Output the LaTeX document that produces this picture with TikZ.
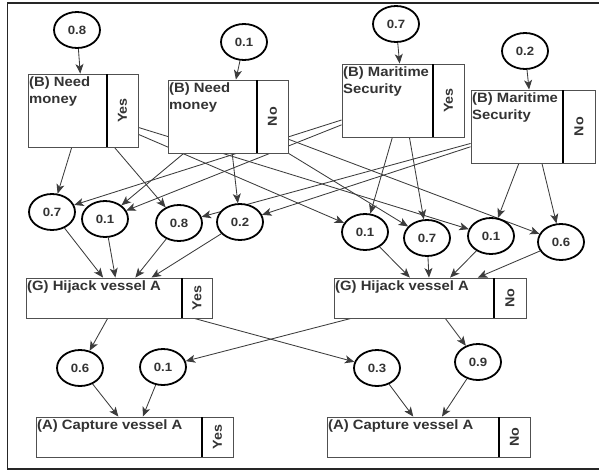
\documentclass[tikz,border=0pt]{standalone}
\usepackage{fontspec}
\setmainfont{Liberation Sans}[FakeStretch=1.1]
\usetikzlibrary{shapes.geometric,arrows.meta}
\pgfdeclarelayer{bg}
\pgfsetlayers{bg,main}
\definecolor{ink}{HTML}{333333}
\definecolor{wire}{HTML}{3c3c3c}
\definecolor{rim}{HTML}{505050}
\tikzset{
  cptbox/.style={draw=rim, line width=0.9pt, fill=white, inner sep=0pt, rectangle},
  divline/.style={line width=1.8pt, black},
  boxlabel/.style={inner sep=1pt, align=left, text=ink,
    font=\fontsize{13.5}{16.5}\selectfont\bfseries},
  statelabel/.style={inner sep=0pt, rotate=90, text=ink,
    font=\fontsize{13}{14}\selectfont\bfseries},
  prob/.style={ellipse, draw=black, line width=1.8pt, fill=white,
    minimum width=46pt, minimum height=36pt, inner sep=0pt, text=ink,
    font=\fontsize{12}{14}\selectfont\bfseries},
  wire/.style={draw=wire, line width=0.85pt,
    -{Stealth[length=9.5pt,width=8pt,inset=2.5pt]}},
  frame/.style={line width=1.6pt, black!85}
}
% box with a state cell on its right: name, x1, y1, x2, y2, divider x, title, state
\newcommand\cptnode[8]{%
  \node[cptbox, minimum width={(#4-#2)*1pt}, minimum height={(#5-#3)*1pt}]
    (#1) at ({(#2+#4)/2},{(#3+#5)/2}) {};
  \draw[divline] (#6,#3) -- (#6,#5);
  \node[boxlabel, anchor=north west] (#1-title) at (#2,#3+2) {#7};
  \node[statelabel] (#1-state) at ({(#6+#4)/2},{(#3+#5)/2}) {#8};
}
\begin{document}
\begin{tikzpicture}[x=1pt, y=-1pt]
\useasboundingbox (0,0) rectangle (599,471);
\draw[frame] (600,3) -- (7.5,3) -- (7.5,469) -- (600,469);

% parent priors
\node[prob] (p1) at (77,30) {0.8};
\node[prob] (p2) at (244,42) {0.1};
\node[prob] (p3) at (396,24) {0.7};
\node[prob] (p4) at (525,51) {0.2};

% parent nodes
\cptnode{nmy}{28}{74}{138}{147}{107}{(B) Need\\money}{Yes}
\cptnode{nmn}{168}{80}{288}{153}{257}{(B) Need\\money}{No}
\cptnode{msy}{342}{64}{464}{137}{433}{(B) Maritime\\Security}{Yes}
\cptnode{msn}{471}{90}{595}{163}{563}{(B) Maritime\\Security}{No}

% conditional probabilities for the hijack node
\node[prob] (l1) at (52,212) {0.7};
\node[prob] (l2) at (105,219) {0.1};
\node[prob] (l3) at (179,223) {0.8};
\node[prob] (l4) at (240,222) {0.2};
\node[prob] (r1) at (365,232) {0.1};
\node[prob] (r2) at (427,238) {0.7};
\node[prob] (r3) at (491,236) {0.1};
\node[prob] (r4) at (561,242) {0.6};

% hijack node
\cptnode{gy}{26}{278}{212}{318}{182}{(G) Hijack vessel A}{Yes}
\cptnode{gn}{334}{278}{526}{318}{494}{(G) Hijack vessel A}{No}

% conditional probabilities for the capture node
\node[prob] (b1) at (80,368) {0.6};
\node[prob] (b2) at (163,367) {0.1};
\node[prob] (b3) at (377,368) {0.3};
\node[prob] (b4) at (478,362) {0.9};

% capture node
\cptnode{cy}{36}{417}{233}{457}{202}{(A) Capture vessel A}{Yes}
\cptnode{cn}{327}{417}{530}{457}{499}{(A) Capture vessel A}{No}

\begin{pgfonlayer}{bg}
  \draw[wire] (p1) -- (nmy);
  \draw[wire] (p2) -- (nmn);
  \draw[wire] (p3) -- (msy);
  \draw[wire] (p4) -- (msn);
  \foreach \t in {l1,l3,r1,r3} \draw[wire] (nmy) -- (\t);
  \foreach \t in {l2,l4,r2,r4} \draw[wire] (nmn) -- (\t);
  \foreach \t in {l1,l2,r1,r2} \draw[wire] (msy) -- (\t);
  \foreach \t in {l3,l4,r3,r4} \draw[wire] (msn) -- (\t);
  \foreach \s in {l1,l2,l3,l4} \draw[wire] (\s) -- (gy);
  \foreach \s in {r1,r2,r3,r4} \draw[wire] (\s) -- (gn);
  \draw[wire] (gy) -- (b1);
  \draw[wire] (gy) -- (b3);
  \draw[wire] (gn) -- (b2);
  \draw[wire] (gn) -- (b4);
  \draw[wire] (b1) -- (cy);
  \draw[wire] (b2) -- (cy);
  \draw[wire] (b3) -- (cn);
  \draw[wire] (b4) -- (cn);
\end{pgfonlayer}
\end{tikzpicture}
\end{document}
